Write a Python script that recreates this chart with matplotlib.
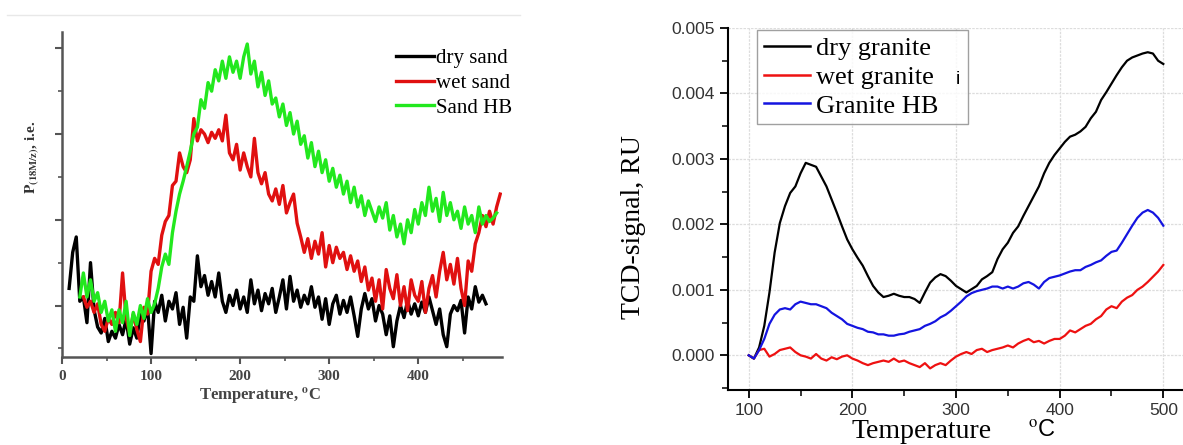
import numpy as np
import matplotlib.pyplot as plt
from matplotlib.ticker import MultipleLocator, FormatStrFormatter
from matplotlib.lines import Line2D

SERIF = ['Liberation Serif', 'DejaVu Serif']
SANS = ['Liberation Sans', 'DejaVu Sans']
plt.rcParams['mathtext.fontset'] = 'stix'

# ---- left panel: sand (arbitrary units, sampled every 4 C) ----
dry_sand_t0 = 8
dry_sand = [1.20, 1.62, 1.80, 1.05, 1.10, 0.80, 1.50, 0.95, 0.75, 0.68, 0.85, 0.58,
            0.70, 0.62, 0.78, 0.66, 0.84, 0.55, 0.74, 0.62, 0.90, 0.82, 0.98, 0.44,
            1.05, 0.92, 1.12, 0.82, 1.05, 0.96, 1.15, 0.78, 0.98, 0.62, 1.10, 1.05,
            1.58, 1.22, 1.35, 1.12, 1.28, 1.10, 1.38, 1.05, 0.92, 1.12, 1.00, 1.18,
            0.96, 1.10, 0.92, 1.30, 1.02, 1.18, 0.94, 1.14, 1.02, 1.20, 0.92, 1.10,
            1.30, 0.96, 1.34, 1.05, 1.18, 0.98, 1.12, 1.02, 1.22, 0.98, 1.10, 0.84,
            1.08, 0.78, 1.02, 1.12, 0.90, 1.06, 0.92, 1.10, 0.88, 0.64, 0.96, 1.14,
            0.96, 1.08, 0.82, 1.00, 0.90, 0.66, 0.88, 0.52, 0.82, 1.00, 0.86, 1.06,
            0.90, 1.02, 0.88, 1.04, 0.92, 1.10, 0.94, 0.78, 0.96, 0.66, 0.52, 0.90,
            1.00, 0.94, 1.06, 0.68, 1.10, 0.96, 1.22, 1.04, 1.12, 1.02]

wet_sand_t0 = 24
wet_sand = [1.10, 0.98, 1.05, 0.92, 1.02, 0.78, 0.70, 0.85, 0.78, 0.92, 0.80, 1.38,
            0.85, 0.68, 0.90, 0.72, 0.58, 0.98, 0.90, 1.40, 1.55, 1.48, 1.82, 1.98,
            2.05, 2.40, 2.45, 2.78, 2.62, 2.55, 2.70, 3.18, 2.92, 3.05, 3.00, 2.90,
            3.02, 2.95, 3.05, 2.92, 3.22, 2.78, 2.70, 2.88, 2.58, 2.78, 2.62, 2.50,
            2.95, 2.55, 2.42, 2.55, 2.30, 2.22, 2.36, 2.18, 2.40, 2.08, 2.20, 2.30,
            1.96, 1.80, 1.62, 1.78, 1.55, 1.75, 1.60, 1.85, 1.45, 1.70, 1.50, 1.68,
            1.55, 1.62, 1.42, 1.58, 1.40, 1.52, 1.28, 1.45, 1.18, 1.32, 1.05, 1.30,
            0.96, 1.42, 1.20, 1.08, 1.36, 1.00, 1.22, 0.94, 1.30, 1.12, 1.05, 1.28,
            0.92, 1.20, 1.35, 1.10, 1.40, 1.62, 1.30, 1.48, 1.25, 1.55, 1.20, 1.00,
            1.52, 1.40, 1.72, 1.85, 2.05, 1.92, 2.10, 1.95, 2.15, 2.30]

sand_hb_t0 = 20
sand_hb = [1.10, 1.38, 1.10, 1.30, 1.05, 1.15, 0.92, 1.05, 0.82, 0.95, 0.70, 0.95,
           0.80, 1.05, 0.65, 0.92, 0.78, 1.00, 0.85, 1.08, 0.92, 1.02, 1.20, 1.45,
           1.60, 1.48, 1.85, 2.10, 2.30, 2.45, 2.62, 2.80, 3.00, 3.08, 3.40, 3.30,
           3.60, 3.50, 3.75, 3.62, 3.85, 3.65, 3.90, 3.72, 3.85, 3.65, 3.90, 4.05,
           3.70, 3.85, 3.55, 3.72, 3.45, 3.62, 3.35, 3.42, 3.20, 3.35, 3.10, 3.25,
           3.00, 3.15, 2.88, 2.98, 2.72, 2.90, 2.62, 2.80, 2.55, 2.70, 2.45, 2.60,
           2.38, 2.52, 2.30, 2.45, 2.20, 2.38, 2.15, 2.28, 2.05, 2.22, 2.10, 1.98,
           2.15, 2.02, 2.20, 1.88, 2.05, 1.80, 1.95, 1.72, 2.00, 1.85, 2.12, 1.95,
           2.20, 2.05, 2.38, 2.10, 2.25, 1.98, 2.32, 2.05, 2.20, 2.00, 2.10, 1.90,
           2.15, 1.95, 2.05, 1.85, 2.15, 1.95, 2.05, 1.98, 2.02, 2.08]
sand_step = 4

# ---- right panel: granite (TCD signal, units of 0.001, every 5 C from 100) ----
granite_t0 = 100
granite_step = 5
dry_granite = [0.00, -0.05, 0.12, 0.45, 0.96, 1.57, 2.02, 2.28, 2.48, 2.58, 2.78, 2.94,
               2.91, 2.88, 2.73, 2.58, 2.38, 2.18, 1.97, 1.77, 1.62, 1.49, 1.37, 1.21,
               1.06, 0.96, 0.89, 0.91, 0.94, 0.91, 0.89, 0.89, 0.86, 0.80, 0.96, 1.11,
               1.19, 1.24, 1.21, 1.14, 1.06, 1.01, 0.96, 1.01, 1.06, 1.16, 1.21, 1.27,
               1.47, 1.62, 1.72, 1.87, 1.97, 2.13, 2.28, 2.43, 2.58, 2.78, 2.94, 3.06,
               3.16, 3.26, 3.34, 3.37, 3.42, 3.49, 3.62, 3.72, 3.90, 4.02, 4.15, 4.28,
               4.40, 4.50, 4.55, 4.58, 4.61, 4.63, 4.61, 4.50, 4.45]
wet_granite = [0.00, -0.05, 0.08, 0.10, -0.02, 0.02, 0.08, 0.10, 0.12, 0.05, 0.00, -0.02,
               -0.05, 0.02, -0.05, -0.08, -0.03, -0.06, -0.02, 0.00, -0.05, -0.08, -0.12, -0.15,
               -0.12, -0.10, -0.08, -0.10, -0.05, -0.10, -0.08, -0.12, -0.15, -0.18, -0.12, -0.20,
               -0.15, -0.12, -0.15, -0.08, -0.02, 0.02, 0.05, 0.02, 0.08, 0.10, 0.05, 0.08,
               0.10, 0.12, 0.15, 0.12, 0.18, 0.22, 0.25, 0.20, 0.22, 0.18, 0.22, 0.25,
               0.25, 0.30, 0.38, 0.35, 0.40, 0.45, 0.48, 0.55, 0.60, 0.70, 0.75, 0.72,
               0.82, 0.88, 0.92, 1.00, 1.05, 1.12, 1.20, 1.28, 1.38]
granite_hb = [0.00, -0.05, 0.08, 0.25, 0.48, 0.62, 0.70, 0.72, 0.70, 0.78, 0.82, 0.80,
              0.78, 0.78, 0.75, 0.72, 0.65, 0.60, 0.55, 0.48, 0.45, 0.42, 0.40, 0.36,
              0.35, 0.32, 0.32, 0.30, 0.30, 0.32, 0.33, 0.36, 0.38, 0.40, 0.45, 0.48,
              0.52, 0.58, 0.62, 0.68, 0.75, 0.82, 0.90, 0.95, 0.98, 1.00, 1.02, 1.05,
              1.05, 1.02, 1.05, 1.02, 1.05, 1.10, 1.12, 1.08, 1.02, 1.12, 1.18, 1.20,
              1.22, 1.25, 1.28, 1.30, 1.30, 1.35, 1.38, 1.42, 1.45, 1.52, 1.58, 1.60,
              1.72, 1.85, 1.98, 2.10, 2.18, 2.22, 2.18, 2.10, 1.98]


def temps(t0, step, vals):
    return t0 + step * np.arange(len(vals))


W, H = 1183, 445
fig = plt.figure(figsize=(W / 100, H / 100), dpi=100)


def px(x, y):
    return x / W, 1 - y / H


# faint rule above the left figure
fig.add_artist(Line2D([7 / W, 520 / W], [1 - 15 / H] * 2, color='#e8e8e8', lw=1))

# ================= left panel =================
ax1 = fig.add_axes([62 / W, 88 / H, 440 / W, 325 / H])
ax1.plot(temps(dry_sand_t0, sand_step, dry_sand), dry_sand, color='black', lw=2.4, label='dry sand')
ax1.plot(temps(wet_sand_t0, sand_step, wet_sand), wet_sand, color='#e01010', lw=2.4, label='wet sand')
ax1.plot(temps(sand_hb_t0, sand_step, sand_hb), sand_hb, color='#22e81e', lw=2.4, label='Sand HB')
ax1.set_xlim(0, 494)
ax1.set_ylim(0.4, 4.19)
for s in ['top', 'right']:
    ax1.spines[s].set_visible(False)
for s in ['left', 'bottom']:
    ax1.spines[s].set_color('#555555')
    ax1.spines[s].set_linewidth(1.8)
ax1.xaxis.set_major_locator(MultipleLocator(100))
ax1.xaxis.set_minor_locator(MultipleLocator(50))
ax1.yaxis.set_major_locator(MultipleLocator(1))
ax1.yaxis.set_minor_locator(MultipleLocator(0.5))
ax1.set_yticklabels([])
ax1.tick_params(which='major', direction='out', length=5, width=1.5, color='#555555')
ax1.tick_params(which='minor', direction='out', length=3, width=1.2, color='#555555')
ax1.tick_params(axis='x', pad=4)
for lab in ax1.get_xticklabels():
    lab.set_family(SERIF)
    lab.set_fontweight('bold')
    lab.set_fontsize(11)
    lab.set_color('#444444')
fig.text(*px(260, 396), r'Temperature, $^{\mathbf{o}}$C', family=SERIF, fontweight='bold',
         fontsize=12, color='#444444', ha='center', va='center')
fig.text(*px(32, 157), r'$\mathbf{P_{(18M/z)}}$, i.e.', family=SERIF, fontweight='bold',
         fontsize=11, color='#333333', rotation=90, ha='center', va='center')
ax1.legend(loc='upper left', bbox_to_anchor=px(386, 38), bbox_transform=fig.transFigure,
           frameon=False, borderpad=0, handlelength=1.8, handletextpad=0.1,
           labelspacing=0.25, prop={'family': SERIF, 'size': 15})

# ================= right panel =================
ax2 = fig.add_axes([728 / W, 55 / H, 455 / W, 362 / H])
gx = temps(granite_t0, granite_step, dry_granite)
ax2.plot(gx, np.array(dry_granite) / 1000, color='black', lw=1.6, label='dry granite')
ax2.plot(gx, np.array(wet_granite) / 1000, color='#ee1111', lw=1.6, label='wet granite')
ax2.plot(gx, np.array(granite_hb) / 1000, color='#1414e0', lw=1.6, label='Granite HB')
ax2.set_xlim(80, 519)
ax2.set_ylim(-0.00053, 0.005)
for s in ['top', 'right']:
    ax2.spines[s].set_visible(False)
for s in ['left', 'bottom']:
    ax2.spines[s].set_linewidth(1.5)
ax2.xaxis.set_major_locator(MultipleLocator(100))
ax2.xaxis.set_minor_locator(MultipleLocator(50))
ax2.yaxis.set_major_locator(MultipleLocator(0.001))
ax2.yaxis.set_minor_locator(MultipleLocator(0.0005))
ax2.yaxis.set_major_formatter(FormatStrFormatter('%.3f'))
ax2.grid(True, which='major', color='#dddddd', lw=0.9, ls=(0, (2, 1)))
ax2.set_axisbelow(True)
ax2.tick_params(which='major', direction='out', length=6, width=1.3)
ax2.tick_params(which='minor', direction='out', length=4, width=1.1)
for lab in ax2.get_xticklabels() + ax2.get_yticklabels():
    lab.set_family(SANS)
    lab.set_fontsize(12.5)
    lab.set_color('#333333')
fig.text(*px(922, 432), 'Temperature', family=SERIF, fontsize=20, ha='center', va='center')
fig.text(*px(1042, 430), r'$^{\mathrm{o}}$C', family=SANS, fontsize=17, ha='center', va='center')
fig.text(*px(633, 227), 'TCD-signal, RU', family=SERIF, fontsize=20, rotation=90,
         ha='center', va='center')
fig.text(*px(958, 80), 'i', family=SANS, fontsize=14, ha='center', va='center')
leg = ax2.legend(loc='upper left', bbox_to_anchor=(757 / W, 1 - 125 / H, 211 / W, 95 / H),
                 bbox_transform=fig.transFigure, mode='expand',
                 frameon=True, fancybox=False, borderpad=0.25, handlelength=1.75,
                 handletextpad=0.25, labelspacing=0.2, borderaxespad=0,
                 prop={'family': SERIF, 'size': 19})
leg.get_frame().set_edgecolor('#888888')
leg.get_frame().set_linewidth(1.0)
for h in leg.get_lines():
    h.set_linewidth(1.8)

fig.savefig('out.png', dpi=100)
